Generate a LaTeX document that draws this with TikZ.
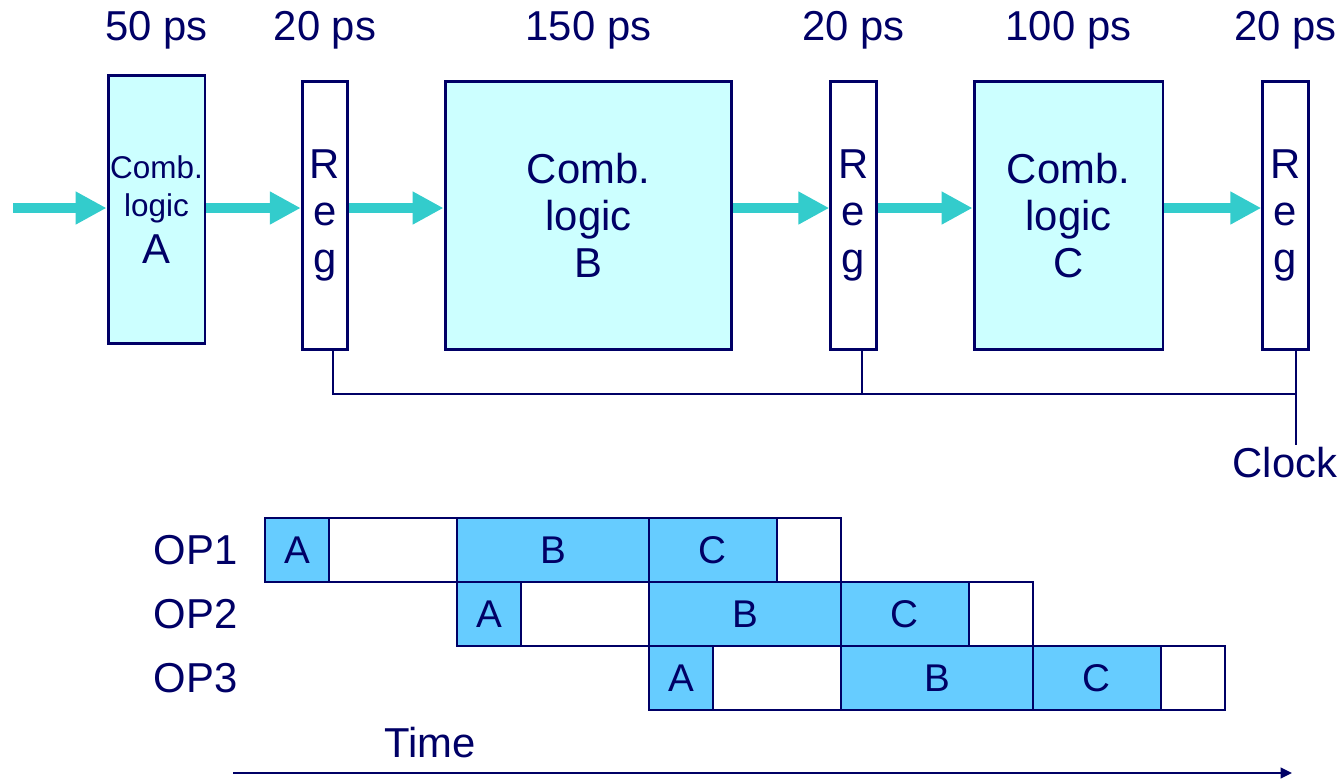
\documentclass[tikz,border=0pt]{standalone}
\usepackage{fontspec}
\setmainfont{Liberation Sans}
\usepackage{tikz}
\usetikzlibrary{arrows.meta,positioning,calc}
\definecolor{navy}{HTML}{000066}
\definecolor{combfill}{HTML}{CCFFFF}
\definecolor{flowcol}{HTML}{33CCCC}
\definecolor{stagefill}{HTML}{66CCFF}
\newcommand{\lblfont}{\fontsize{23.8pt}{26.8pt}\selectfont}
\newcommand{\smallfont}{\fontsize{17.9pt}{21pt}\selectfont}
\newcommand{\cellfont}{\fontsize{22pt}{26pt}\selectfont}

\begin{document}
\begin{tikzpicture}[x=0.02cm,y=-0.02cm,
  every node/.style={text=navy,font=\lblfont},
  comb/.style={draw=navy,line width=1.7pt,fill=combfill,minimum height=5.38cm,align=center,inner sep=0pt},
  reg/.style={draw=navy,line width=1.7pt,fill=white,minimum width=0.91cm,minimum height=5.38cm,align=center,inner sep=0pt},
  flow/.style={flowcol,line width=5.7pt,-{Triangle[length=17.6pt,width=17.6pt]}},
  wire/.style={navy,line width=1.4pt},
  cell/.style={draw=navy,line width=1.1pt,minimum height=1.28cm,anchor=west,inner sep=0pt,outer sep=0pt,font=\cellfont},
  busy/.style={cell,fill=stagefill}]
\useasboundingbox (0,0) rectangle (1344,779);
\coordinate (in) at (13,208);
\coordinate (top) at (0,30);
\coordinate (bus) at (0,394);
\coordinate (clk) at (1296,445);
\node[comb,minimum width=1.94cm,minimum height=5.38cm] (combA) at (156.5,209.5) {\smallfont Comb.\\[-5.5pt]\smallfont logic\\A};
\node[reg] (reg1) at (325,215.5) {R\\e\\g};
\node[comb,minimum width=5.74cm] (combB) at (588.5,215.5) {Comb.\\logic\\B};
\node[reg] (reg2) at (853.5,215.5) {R\\e\\g};
\node[comb,minimum width=3.78cm] (combC) at (1068.5,215.5) {Comb.\\logic\\C};
\node[reg] (reg3) at (1285.5,215.5) {R\\e\\g};
\node (dA) at (combA |- top) {50 ps};
\node (d1) at (reg1 |- top) {20 ps};
\node (dB) at (combB |- top) {150 ps};
\node (d2) at (reg2 |- top) {20 ps};
\node (dC) at (combC |- top) {100 ps};
\node (d3) at (reg3 |- top) {20 ps};
\draw[flow] (in) -- (in -| combA.west);
\draw[flow] (in -| combA.east) -- (in -| reg1.west);
\draw[flow] (in -| reg1.east) -- (in -| combB.west);
\draw[flow] (in -| combB.east) -- (in -| reg2.west);
\draw[flow] (in -| reg2.east) -- (in -| combC.west);
\draw[flow] (in -| combC.east) -- (in -| reg3.west);
\draw[wire] ([xshift=0.16cm]reg1.south) |- (bus -| clk) -- (clk);
\draw[wire] ([xshift=0.17cm]reg2.south) -- ([xshift=0.17cm]reg2.south |- bus);
\draw[wire] (reg3.south -| clk) -- (bus -| clk);
\node[below=0pt of clk,xshift=-0.22cm,inner sep=1pt] (clock) {Clock};
\foreach \op [count=\k from 0] in {1,2,3} {
  \pgfmathsetmacro{\xs}{265+192*\k}
  \pgfmathsetmacro{\ys}{550+64*\k}
  \node[busy,minimum width=1.28cm] (a\op) at (\xs,\ys) {A};
  \node[cell,minimum width=2.56cm,right=0pt of a\op] (wa\op) {};
  \node[busy,minimum width=3.84cm,right=0pt of wa\op] (b\op) {B};
  \node[busy,minimum width=2.56cm,right=0pt of b\op] (c\op) {C};
  \node[cell,minimum width=1.28cm,right=0pt of c\op] (wc\op) {};
}
\node[left=0.47cm of a1,inner sep=2pt] (op1) {OP1};
\node (op2) at (op1 |- a2) {OP2};
\node (op3) at (op1 |- a3) {OP3};
\coordinate (t0) at (233,773);
\coordinate (t1) at (1292,773);
\draw[navy,line width=1.4pt,-{Triangle[length=6.5pt,width=6pt]}] (t0) -- (t1);
\node (time) at (430,743) {Time};
\end{tikzpicture}
\end{document}
